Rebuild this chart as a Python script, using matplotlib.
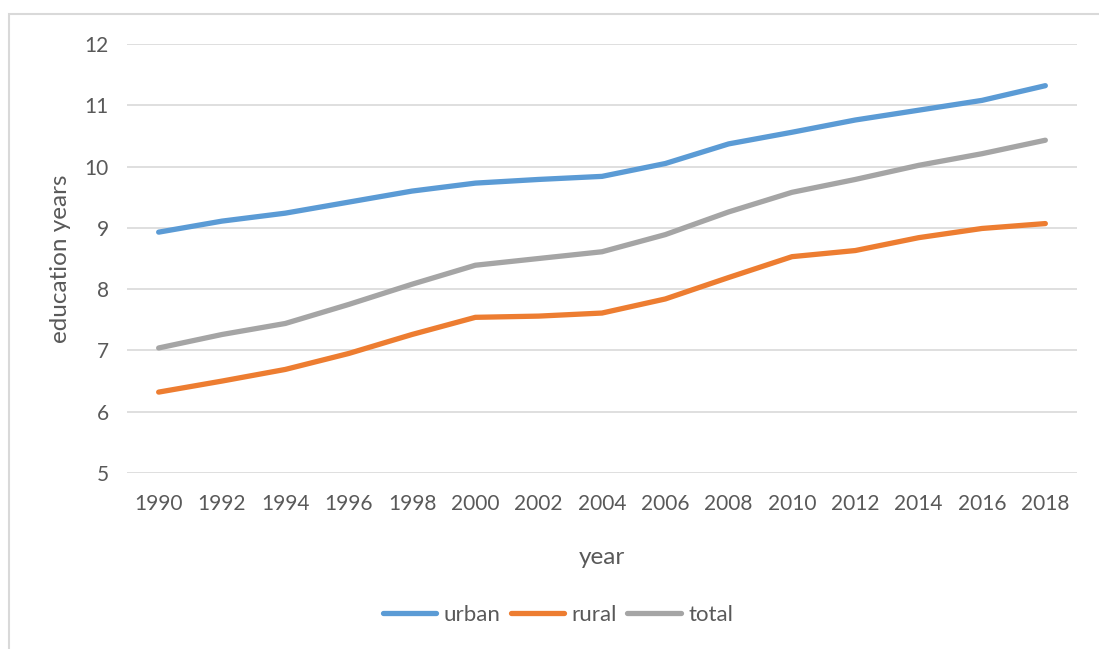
import matplotlib.pyplot as plt
from matplotlib.patches import Rectangle

plt.rcParams['font.family'] = ['Lato', 'DejaVu Sans']

# Data
years = ['1990', '1992', '1994', '1996', '1998', '2000', '2002', '2004',
         '2006', '2008', '2010', '2012', '2014', '2016', '2018']
urban = [8.93, 9.11, 9.24, 9.42, 9.60, 9.73, 9.79, 9.84,
         10.05, 10.37, 10.56, 10.76, 10.92, 11.08, 11.32]
rural = [6.32, 6.50, 6.69, 6.95, 7.26, 7.54, 7.56, 7.61,
         7.84, 8.19, 8.53, 8.63, 8.84, 8.99, 9.07]
total = [7.04, 7.26, 7.44, 7.75, 8.08, 8.39, 8.50, 8.61,
         8.89, 9.26, 9.58, 9.79, 10.02, 10.21, 10.43]

text_color = '#595959'

fig = plt.figure(figsize=(10.99, 6.49), dpi=100)
W, H = 1099, 649
ax = fig.add_axes([127 / W, 1 - 473 / H, (1077 - 127) / W, (473 - 44) / H])

# outer chart border (runs off the right and bottom edges, like the screenshot)
fig.patches.append(Rectangle((9 / W, -20 / H), 1.2, (1 - 14 / H) + 20 / H,
                             transform=fig.transFigure, fill=False,
                             edgecolor='#d9d9d9', linewidth=1.5))

x = range(len(years))
ax.plot(x, urban, color='#5B9BD5', linewidth=3.8, label='urban', solid_capstyle='round')
ax.plot(x, rural, color='#ED7D31', linewidth=3.8, label='rural', solid_capstyle='round')
ax.plot(x, total, color='#A5A5A5', linewidth=3.8, label='total', solid_capstyle='round')

ax.set_xlim(-0.5, len(years) - 0.5)
ax.set_ylim(5, 12)
ax.set_yticks(range(5, 13))
ax.set_xticks(list(x))
ax.set_xticklabels(years)
ax.grid(axis='y', color='#d9d9d9', linewidth=1.2)
ax.set_axisbelow(True)
for s in ax.spines.values():
    s.set_visible(False)
ax.tick_params(length=0, labelsize=15, colors=text_color)
ax.tick_params(axis='x', pad=15)
ax.tick_params(axis='y', pad=13)

ax.set_xlabel('year', fontsize=17.5, color=text_color)
ax.xaxis.set_label_coords(0.5, (473 - 557) / 429)
ax.xaxis.label.set_va('center')
ax.set_ylabel('education years', fontsize=17.5, color=text_color)
ax.yaxis.set_label_coords((71 - 127) / 950, 0.5)

leg = fig.legend(loc='center', bbox_to_anchor=(558 / W, 1 - 615 / H), ncol=3,
                 frameon=False, fontsize=16, handlelength=2.4,
                 handletextpad=0.35, columnspacing=0.45)
for t in leg.get_texts():
    t.set_color(text_color)

plt.savefig('out.png', dpi=100)
